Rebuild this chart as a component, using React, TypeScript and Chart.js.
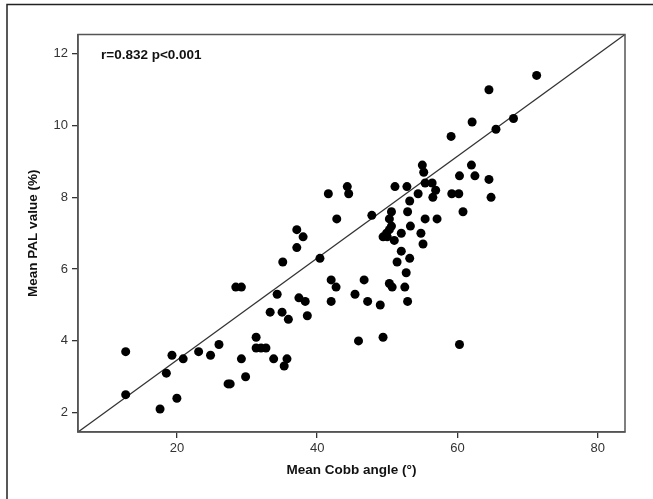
import React, { useEffect, useRef } from "react";
import { Chart, registerables } from "chart.js";

Chart.register(...registerables);

// Mean Cobb angle (°)
const cobbAngle = [
  12.7, 12.7, 17.6, 18.5, 19.3, 20.0, 20.9, 23.1, 24.8, 26.0,
  27.3, 27.6, 28.4, 29.2, 29.2, 29.8, 31.3, 31.3, 32.0, 32.7,
  33.8, 33.3, 34.3, 35.1, 35.0, 35.9, 35.3, 35.7, 37.1, 38.0,
  37.1, 37.4, 38.3, 38.6, 40.4, 42.8, 42.0, 42.7, 42.0, 45.4,
  45.9, 41.6, 44.3, 44.5, 47.8, 51.1, 52.8, 53.2, 52.9, 50.6,
  50.3, 55.4, 57.1, 50.6, 50.3, 49.9, 49.4, 50.0, 52.0, 53.3,
  54.8, 51.0, 55.1, 52.0, 53.2, 51.4, 52.7, 50.3, 50.7, 52.5,
  52.9, 46.7, 47.2, 49.0, 49.4, 60.3, 71.3, 64.5, 62.1, 68.0,
  65.5, 59.1, 55.0, 55.2, 62.0, 60.3, 62.5, 64.5, 64.8, 55.4,
  56.4, 56.9, 54.4, 56.5, 59.2, 60.2, 60.8,
];

// Mean PAL value (%)
const palValue = [
  3.7, 2.5, 2.1, 3.1, 3.6, 2.4, 3.5, 3.7, 3.6, 3.9,
  2.8, 2.8, 5.5, 5.5, 3.5, 3.0, 4.1, 3.8, 3.8, 3.8,
  3.5, 4.8, 5.3, 6.2, 4.8, 4.6, 3.3, 3.5, 7.1, 6.9,
  6.6, 5.2, 5.1, 4.7, 6.3, 7.4, 5.7, 5.5, 5.1, 5.3,
  4.0, 8.1, 8.3, 8.1, 7.5, 8.3, 8.3, 7.9, 7.6, 7.6,
  7.4, 7.4, 7.4, 7.2, 7.1, 7.0, 6.9, 6.9, 7.0, 7.2,
  7.0, 6.8, 6.7, 6.5, 6.3, 6.2, 5.9, 5.6, 5.5, 5.5,
  5.1, 5.7, 5.1, 5.0, 4.1, 3.9, 11.4, 11.0, 10.1, 10.2,
  9.9, 9.7, 8.9, 8.7, 8.9, 8.6, 8.6, 8.5, 8.0, 8.4,
  8.4, 8.2, 8.1, 8.0, 8.1, 8.1, 7.6,
];

// Fit line end points
const fitLineX = [5.9, 83.9];
const fitLineY = [1.46, 12.54];

const xRange = [5.9, 83.9];
const yRange = [1.46, 12.54];
const xTicks = [20, 40, 60, 80];
const yTicks = [2, 4, 6, 8, 10, 12];

const annotationText = "r=0.832 p<0.001";
const xTitle = "Mean Cobb angle (°)";
const yTitle = "Mean PAL value (%)";

const W = 653;
const H = 499;
const FONT = "Arial, 'Liberation Sans', Helvetica, sans-serif";

export default function App() {
  const ref = useRef<HTMLCanvasElement | null>(null);

  useEffect(() => {
    document.body.style.margin = "0";
    const canvas = ref.current;
    if (!canvas) return;

    const overlay = {
      id: "overlay",
      afterDraw(chart: any) {
        const ctx = chart.ctx;
        const a = chart.chartArea;
        ctx.save();
        // outer frame lines
        ctx.strokeStyle = "#222";
        ctx.lineWidth = 1.5;
        ctx.beginPath();
        ctx.moveTo(7, H);
        ctx.lineTo(7, 4.5);
        ctx.lineTo(W, 4.5);
        ctx.stroke();
        // plot box
        ctx.strokeStyle = "#555";
        ctx.lineWidth = 1.5;
        ctx.strokeRect(a.left, a.top, a.right - a.left, a.bottom - a.top);
        // annotation
        ctx.fillStyle = "#111";
        ctx.font = `bold 13.5px ${FONT}`;
        ctx.textAlign = "left";
        ctx.textBaseline = "middle";
        ctx.fillText(annotationText, 101, 55);
        // x title
        ctx.font = `bold 13.5px ${FONT}`;
        ctx.textAlign = "center";
        ctx.fillText(xTitle, (a.left + a.right) / 2, 470);
        // y title
        ctx.translate(33, (a.top + a.bottom) / 2);
        ctx.rotate(-Math.PI / 2);
        ctx.fillText(yTitle, 0, 0);
        ctx.restore();
      },
    };

    const chart = new Chart(canvas, {
      type: "scatter",
      data: {
        datasets: [
          {
            type: "scatter",
            data: cobbAngle.map((x, i) => ({ x, y: palValue[i] })),
            pointRadius: 4.5,
            pointHoverRadius: 4.5,
            backgroundColor: "#000",
            borderWidth: 0,
          },
          {
            type: "line",
            data: fitLineX.map((x, i) => ({ x, y: fitLineY[i] })),
            borderColor: "#333",
            borderWidth: 1.3,
            pointRadius: 0,
            fill: false,
          } as any,
        ],
      },
      options: {
        responsive: false,
        animation: false,
        layout: { padding: { left: 0, right: W - 625, top: 34.5, bottom: 0 } },
        plugins: { legend: { display: false }, tooltip: { enabled: false } },
        scales: {
          x: {
            type: "linear",
            min: xRange[0],
            max: xRange[1],
            afterBuildTicks: (s: any) => {
              s.ticks = xTicks.map((v) => ({ value: v }));
            },
            afterFit: (s: any) => {
              s.height = H - 432;
            },
            grid: { drawOnChartArea: false, drawTicks: true, tickLength: 6, color: "#333", lineWidth: 1.3 },
            border: { display: true, color: "#555", width: 1.5 },
            ticks: { font: { family: FONT, size: 13 }, color: "#333", padding: 3, maxRotation: 0 },
          },
          y: {
            type: "linear",
            min: yRange[0],
            max: yRange[1],
            afterBuildTicks: (s: any) => {
              s.ticks = yTicks.map((v) => ({ value: v }));
            },
            afterFit: (s: any) => {
              s.width = 78;
            },
            grid: { drawOnChartArea: false, drawTicks: true, tickLength: 6, color: "#333", lineWidth: 1.3 },
            border: { display: true, color: "#555", width: 1.5 },
            ticks: { font: { family: FONT, size: 13 }, color: "#333", padding: 4 },
          },
        },
      },
      plugins: [overlay],
    });

    return () => chart.destroy();
  }, []);

  return (
    <div style={{ width: W, height: H, background: "#fff" }}>
      <canvas ref={ref} width={W} height={H} style={{ display: "block" }} />
    </div>
  );
}
